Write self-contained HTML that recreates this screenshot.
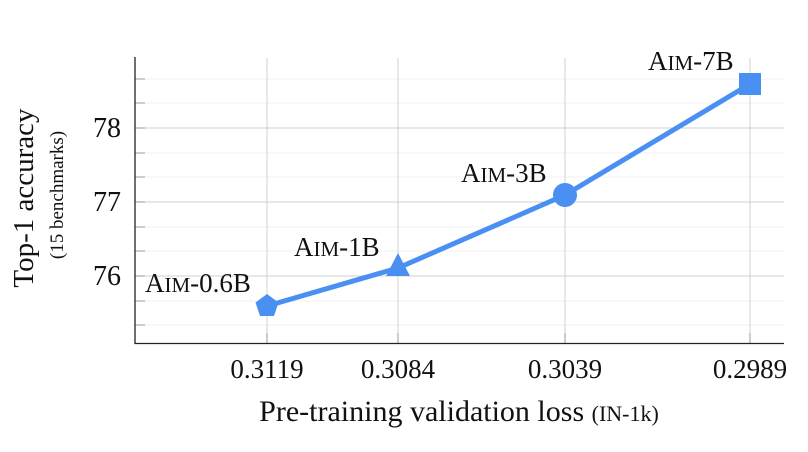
<!DOCTYPE html>
<html><head><style>body{margin:0;background:#fff}svg{display:block}</style></head><body>
<svg width="808" height="452" xmlns="http://www.w3.org/2000/svg" font-family="Liberation Serif, serif">
<g stroke="#f0f0f0" stroke-width="1">
<line x1="135" x2="784" y1="79" y2="79"/><line x1="135" x2="784" y1="103" y2="103"/>
<line x1="135" x2="784" y1="153" y2="153"/><line x1="135" x2="784" y1="177" y2="177"/>
<line x1="135" x2="784" y1="227" y2="227"/><line x1="135" x2="784" y1="251" y2="251"/>
<line x1="135" x2="784" y1="301" y2="301"/><line x1="135" x2="784" y1="325" y2="325"/>
</g>
<g stroke="#d0d0d0" stroke-width="1">
<line x1="135" x2="784" y1="128" y2="128"/><line x1="135" x2="784" y1="202" y2="202"/><line x1="135" x2="784" y1="276" y2="276"/>
<line x1="267" x2="267" y1="58" y2="343"/><line x1="398" x2="398" y1="58" y2="343"/>
<line x1="565" x2="565" y1="58" y2="343"/><line x1="750" x2="750" y1="58" y2="343"/>
</g>
<g stroke="#999" stroke-width="1">
<line x1="135" x2="145" y1="79" y2="79"/><line x1="135" x2="145" y1="103" y2="103"/><line x1="135" x2="145" y1="128" y2="128"/>
<line x1="135" x2="145" y1="153" y2="153"/><line x1="135" x2="145" y1="177" y2="177"/><line x1="135" x2="145" y1="202" y2="202"/>
<line x1="135" x2="145" y1="227" y2="227"/><line x1="135" x2="145" y1="251" y2="251"/><line x1="135" x2="145" y1="276" y2="276"/>
<line x1="135" x2="145" y1="301" y2="301"/><line x1="135" x2="145" y1="325" y2="325"/>
<line x1="267" x2="267" y1="333" y2="343"/><line x1="398" x2="398" y1="333" y2="343"/><line x1="565" x2="565" y1="333" y2="343"/><line x1="750" x2="750" y1="333" y2="343"/>
</g>
<path d="M135 57V343.5H784" fill="none" stroke="#222" stroke-width="1.3"/>
<polyline points="267,306 398,268 565,195 750,84" fill="none" stroke="#4a8ff2" stroke-width="5" stroke-linejoin="round"/>
<g fill="#4a8ff2">
<polygon points="267,294 278.5,302.5 274,316 260,316 255.5,302.5"/>
<polygon points="398,253 410,276 386,276"/>
<circle cx="565" cy="195" r="12"/>
<rect x="739" y="73" width="22" height="22"/>
</g>
<g font-size="28" fill="#111">
<text x="121" y="137" text-anchor="end">78</text>
<text x="121" y="211" text-anchor="end">77</text>
<text x="121" y="285" text-anchor="end">76</text>
</g>
<g font-size="27" fill="#111">
<text x="267" y="378" text-anchor="middle">0.3119</text>
<text x="398" y="378" text-anchor="middle">0.3084</text>
<text x="565" y="378" text-anchor="middle">0.3039</text>
<text x="750" y="378" text-anchor="middle">0.2989</text>
</g>
<g font-size="27" fill="#111">
<text x="145" y="292">A<tspan font-size="21">IM</tspan>-0.6B</text>
<text x="294" y="256">A<tspan font-size="21">IM</tspan>-1B</text>
<text x="461" y="182">A<tspan font-size="21">IM</tspan>-3B</text>
<text x="648" y="70">A<tspan font-size="21">IM</tspan>-7B</text>
</g>
<text x="459" y="421" text-anchor="middle" font-size="30" fill="#111">Pre-training validation loss <tspan font-size="22">(IN-1k)</tspan></text>
<text transform="translate(33,198) rotate(-90)" text-anchor="middle" font-size="29" fill="#111">Top-1 accuracy</text>
<text transform="translate(63,195) rotate(-90)" text-anchor="middle" font-size="19" fill="#111">(15 benchmarks)</text>
</svg>
</body></html>
